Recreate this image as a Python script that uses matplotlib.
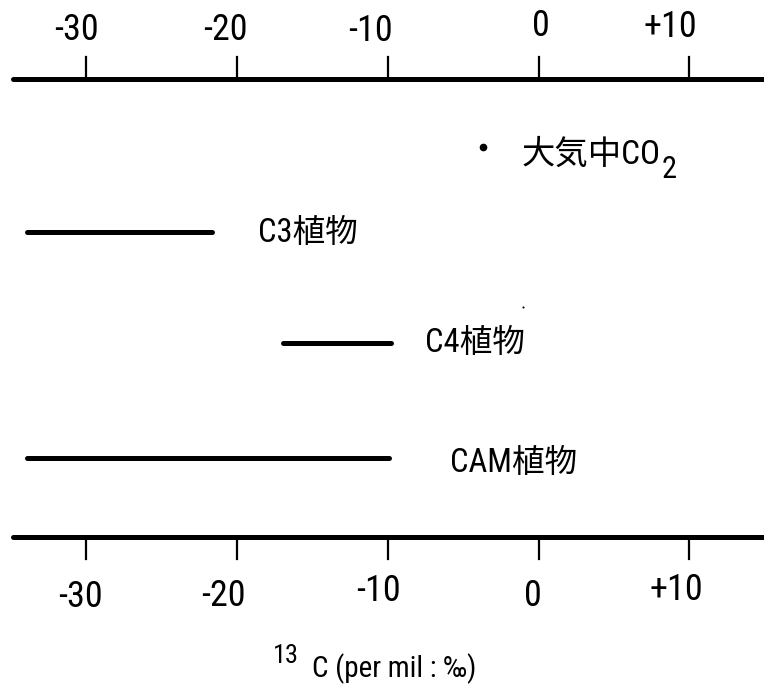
import matplotlib
matplotlib.use("Agg")
import matplotlib.pyplot as plt
from matplotlib import font_manager

# delta 13C ranges (per mil)
groups = ["C3植物", "C4植物", "CAM植物"]
range_lo = [-33.95, -16.98, -33.97]
range_hi = [-21.66, -9.79, -9.92]
co2_value = -3.7
co2_label = "大気中CO"
stray_value = -1.05

tick_values = [-30, -20, -10, 0, 10]
tick_labels = ["-30", "-20", "-10", "0", "+10"]

names = {f.name for f in font_manager.fontManager.ttflist}
base = next(n for n in ["Liberation Sans Narrow", "Arial Narrow", "Roboto Condensed",
                        "Archivo Narrow", "Liberation Sans"] if n in names)
FAM = [base, "Noto Sans CJK JP", "DejaVu Sans"]
plt.rcParams["font.family"] = FAM

fig = plt.figure(figsize=(7.64, 6.89), dpi=100)
ax = fig.add_axes([0, 0, 1, 1])
ax.set_axis_off()
# x: 0 per mil at px 538.5, ~15.07 px per unit; y in pixel rows from the top
ppu = 15.07
x0 = 538.5
ax.set_xlim(-x0 / ppu, (764 - x0) / ppu)
ax.set_ylim(689, 0)


def px(x):
    return (x - x0) / ppu


# axis lines with ticks and labels (label offsets in px, as drawn in the source)
top_off = [(-10, 30), (-12, 30), (-17, 31), (2, 26), (-19, 27)]
bot_off = [(-6, 597), (-14, 596), (-9, 591), (-6, 596), (-13, 590)]
for yl, tick_dir, offs in [(79, -1, top_off), (537, 1, bot_off)]:
    ax.plot([px(13), px(764)], [yl, yl], color="black", lw=3.6, solid_capstyle="round")
    for v, t, (dx, ly) in zip(tick_values, tick_labels, offs):
        ax.plot([v, v], [yl, yl + tick_dir * 22], color="black", lw=1.6)
        ax.text(v + dx / ppu, ly, t, ha="center", va="center", fontsize=26)

# ranges
row_y = [232, 343, 458]
label_pos = [(258, 233), (425, 343), (450, 463)]
for lo, hi, y, name, (lx, ly) in zip(range_lo, range_hi, row_y, groups, label_pos):
    ax.plot([lo, hi], [y, y], color="black", lw=3.6, solid_capstyle="round")
    ax.text(px(lx), ly, name, ha="left", va="center", fontsize=23.5)

# atmospheric CO2
ax.plot([co2_value], [147], "o", color="black", ms=4.5)
co2 = ax.text(px(522), 155, co2_label, ha="left", va="center", fontsize=24)
ax.plot([stray_value], [307], "o", color="black", ms=1.5, mew=0)

fig.canvas.draw()
r = fig.canvas.get_renderer()
bb = co2.get_window_extent(r)
inv = ax.transData.inverted()
x_end = inv.transform((bb.x1, bb.y0))[0]
ax.text(x_end + 0.05, 170, "2", ha="left", va="center", fontsize=22)

# x label with superscript 13
ax.text(px(312), 669, "C (per mil : ‰)", ha="left", va="center", fontsize=21)
ax.text(px(286), 656, "13", ha="center", va="center", fontsize=19)

fig.savefig("out.png", dpi=100)
